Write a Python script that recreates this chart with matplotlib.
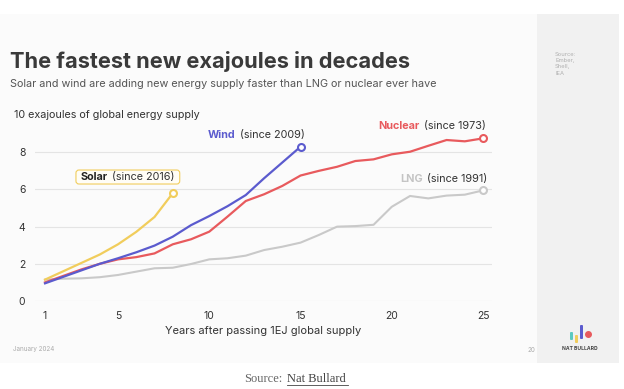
import matplotlib
matplotlib.use('Agg')
import matplotlib.pyplot as plt
from matplotlib.patches import Rectangle, FancyBboxPatch
from matplotlib.transforms import IdentityTransform

plt.rcParams['font.family'] = ['Inter', 'DejaVu Sans']

# values (10 EJ units), year 1 = year the source passed 1 EJ
solar_years = list(range(1, 9))
solar = [1.15, 1.6, 2.05, 2.5, 3.05, 3.72, 4.52, 5.8]

wind_years = list(range(1, 16))
wind = [0.95, 1.3, 1.65, 2.0, 2.3, 2.62, 2.98, 3.46, 4.08, 4.57, 5.1, 5.7, 6.6, 7.45, 8.3]

nuclear_years = list(range(1, 26))
nuclear = [1.0, 1.35, 1.7, 2.0, 2.24, 2.36, 2.56, 3.05, 3.32, 3.73, 4.54, 5.38, 5.74, 6.19,
           6.75, 7.0, 7.22, 7.53, 7.62, 7.89, 8.03, 8.35, 8.66, 8.59, 8.75]

lng_years = list(range(1, 26))
lng = [1.15, 1.2, 1.22, 1.28, 1.4, 1.58, 1.76, 1.79, 1.99, 2.24, 2.3, 2.44, 2.74, 2.92,
       3.14, 3.55, 4.0, 4.03, 4.1, 5.07, 5.65, 5.52, 5.67, 5.72, 5.95]

x_ticks = [1, 5, 10, 15, 20, 25]
y_ticks = [0, 2, 4, 6, 8]

solar_c = '#f1cd5c'
wind_c = '#5b5bce'
nuclear_c = '#e85a5d'
lng_c = '#c9c9c9'
text_c = '#333333'

fig = plt.figure(figsize=(6.24, 3.89), dpi=100)
fig.patch.set_facecolor('white')

# slide background and right panel
fig.patches.append(Rectangle((0, 26 / 389), 537 / 624, 349 / 389, transform=fig.transFigure,
                             facecolor='#fbfbfb', edgecolor='none', zorder=-2))
fig.patches.append(Rectangle((537 / 624, 26 / 389), 82 / 624, 349 / 389, transform=fig.transFigure,
                             facecolor='#f1f1f1', edgecolor='none', zorder=-2))

ax = fig.add_axes([35 / 624, 88 / 389, 457 / 624, 167.3 / 389])
ax.set_facecolor('none')
ax.set_xlim(0.452, 25.49)
ax.set_ylim(0, 9)

for y in y_ticks:
    ax.axhline(y, color='#e4e4e4', lw=0.8, zorder=1)

ax.plot(lng_years, lng, color=lng_c, lw=1.5, zorder=2)
ax.plot(nuclear_years, nuclear, color=nuclear_c, lw=1.6, zorder=3)
ax.plot(wind_years, wind, color=wind_c, lw=1.6, zorder=4)
ax.plot(solar_years, solar, color=solar_c, lw=1.6, zorder=5)

for xs, ys, c in [(solar_years, solar, solar_c), (wind_years, wind, wind_c),
                  (nuclear_years, nuclear, nuclear_c), (lng_years, lng, lng_c)]:
    ax.plot(xs[-1], ys[-1], 'o', ms=5, mfc='white', mec=c, mew=1.5, zorder=6, clip_on=False)

for s in ax.spines.values():
    s.set_visible(False)
ax.set_xticks(x_ticks)
ax.set_yticks(y_ticks)
ax.tick_params(length=0, labelsize=7.5, colors=text_c, pad=7)
ax.set_xlabel('Years after passing 1EJ global supply', fontsize=8, color=text_c, labelpad=4)


# series labels: bold coloured name followed by "(since ...)"
def series_label(x, y, name, color, rest):
    t = ax.text(x, y, name, color=color, fontsize=7.8, fontweight='bold',
                ha='left', va='center', zorder=8)
    r = ax.annotate(rest, xy=(1, 0.5), xycoords=t, xytext=(3, 0), textcoords='offset points',
                    color=text_c, fontsize=7.8, ha='left', va='center', zorder=8)
    return t, r


series_label(9.93, 8.93, 'Wind', wind_c, '(since 2009)')
series_label(19.25, 9.41, 'Nuclear', nuclear_c, '(since 1973)')
series_label(20.45, 6.56, 'LNG', '#c4c4c4', '(since 1991)')
st, sr = series_label(2.97, 6.67, 'Solar', '#222222', '(since 2016)')

fig.canvas.draw()
b1 = st.get_window_extent()
b2 = sr.get_window_extent()
x0, x1 = b1.x0 - 5, b2.x1 + 5
y0, y1 = min(b1.y0, b2.y0) - 2, max(b1.y1, b2.y1) + 2
ax.add_patch(FancyBboxPatch((x0, y0), x1 - x0, y1 - y0, boxstyle='round,pad=0,rounding_size=3',
                            transform=IdentityTransform(), fc='#fffdf6', ec=solar_c, lw=0.8,
                            zorder=7, clip_on=False))

fig.text(10 / 624, 1 - 61 / 389, 'The fastest new exajoules in decades', fontsize=15.7,
         fontweight='bold', color='#3a3a3a', va='center', ha='left')
fig.text(10 / 624, 1 - 84 / 389, 'Solar and wind are adding new energy supply faster than LNG or nuclear ever have',
         fontsize=7.8, color='#555555', va='center', ha='left')
fig.text(14 / 624, 1 - 115 / 389, '10 exajoules of global energy supply', fontsize=7.8,
         color=text_c, va='center', ha='left')

fig.text(13 / 624, 1 - 349 / 389, 'January 2024', fontsize=4.5, color='#aaaaaa', va='center')
fig.text(528 / 624, 1 - 350 / 389, '20', fontsize=4.5, color='#aaaaaa', va='center')
fig.text(555 / 624, 1 - 52 / 389, 'Source:\nEmber,\nShell,\nIEA', fontsize=4.2, color='#b0b0b0',
         va='top', ha='left', linespacing=1.3)

# logo
logo = fig.add_axes([566 / 624, 43 / 389, 28 / 624, 24 / 389])
logo.set_xlim(0, 28)
logo.set_ylim(0, 24)
logo.axis('off')
logo.add_patch(FancyBboxPatch((4, 6), 3, 8, boxstyle='round,pad=0,rounding_size=1', fc='#5cc9c0', ec='none'))
logo.add_patch(FancyBboxPatch((9, 3), 3, 8, boxstyle='round,pad=0,rounding_size=1', fc='#f1cd5c', ec='none'))
logo.add_patch(FancyBboxPatch((14, 7), 3, 14, boxstyle='round,pad=0,rounding_size=1', fc='#5b5bce', ec='none'))
logo.plot(21.5, 12, 'o', ms=4, color='#e85a5d')
fig.text(580 / 624, 1 - 348 / 389, 'NAT BULLARD', fontsize=3.6, fontweight='bold', color='#444444',
         ha='center', va='center')

fig.text(244 / 624, 1 - 379 / 389, 'Source:', fontsize=9, color='#666666', family='Liberation Serif',
         ha='left', va='center')
fig.text(287 / 624, 1 - 379 / 389, 'Nat Bullard', fontsize=9, color='#444444', family='Liberation Serif',
         ha='left', va='center')
fig.add_artist(plt.Line2D([287 / 624, 348 / 624], [1 - 385 / 389, 1 - 385 / 389], color='#444444', lw=0.6))

fig.savefig('out.png', dpi=100)
